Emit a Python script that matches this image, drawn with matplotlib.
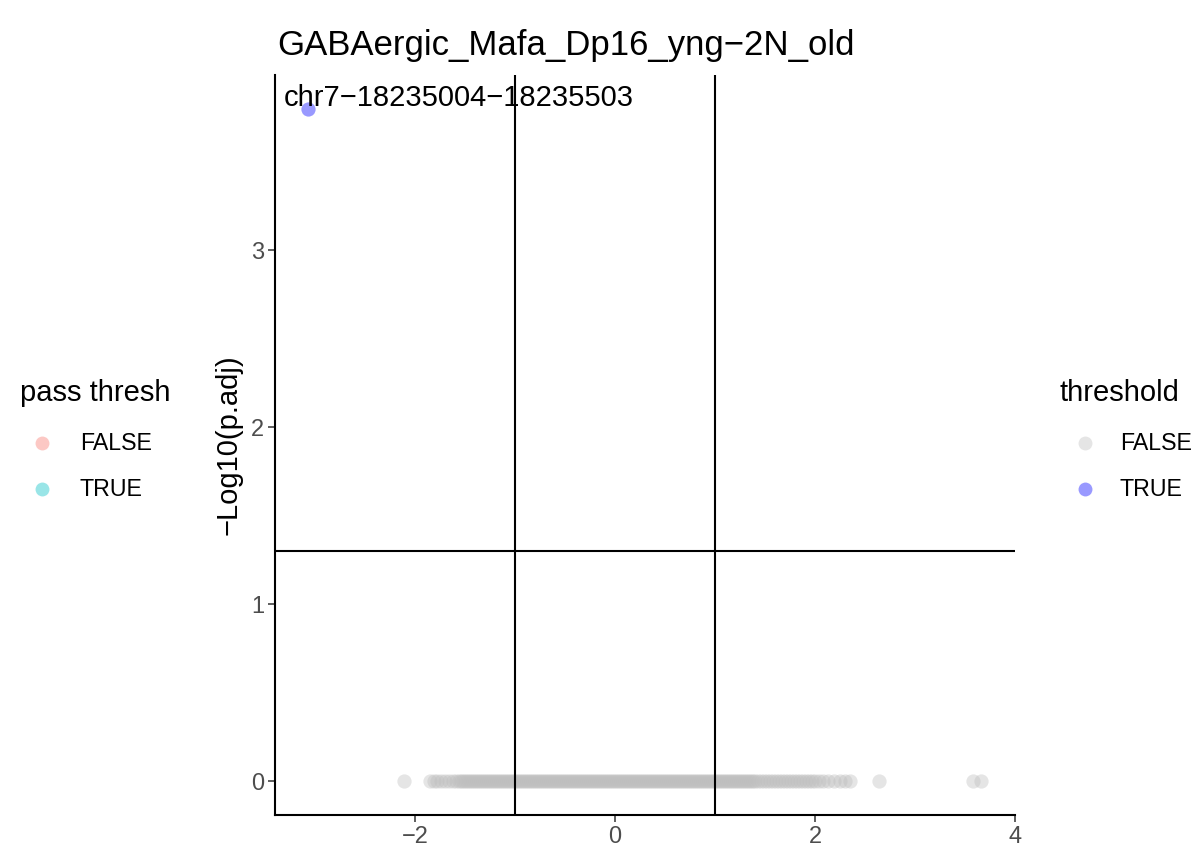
import matplotlib.pyplot as plt
from matplotlib.lines import Line2D

plt.rcParams['font.family'] = ['Liberation Sans', 'DejaVu Sans']

# highlighted peak
sig_lfc = [-3.07]
sig_logp = [3.80]
sig_label = 'chr7\u221218235004\u221218235503'

# non-significant peaks (all sit at -log10(p.adj) ~ 0)
ns_lfc = [-2.11, -1.85, -1.81, -1.78, -1.74, -1.70, -1.66, -1.62, -1.59,
          -1.56, -1.54, -1.52, -1.50, -1.48, -1.46, -1.44, -1.42, -1.40, -1.38,
          -1.36, -1.34, -1.32, -1.30, -1.28, -1.26, -1.24, -1.22, -1.20, -1.18,
          -1.16, -1.14, -1.12, -1.10, -1.08, -1.06, -1.04, -1.02, -1.00, -0.98,
          -0.96, -0.94, -0.92, -0.90, -0.88, -0.86, -0.84, -0.82, -0.80, -0.78,
          -0.76, -0.74, -0.72, -0.70, -0.68, -0.66, -0.64, -0.62, -0.60, -0.58,
          -0.56, -0.54, -0.52, -0.50, -0.48, -0.46, -0.44, -0.42, -0.40, -0.38,
          -0.36, -0.34, -0.32, -0.30, -0.28, -0.26, -0.24, -0.22, -0.20, -0.18,
          -0.16, -0.14, -0.12, -0.10, -0.08, -0.06, -0.04, -0.02, 0.00, 0.02,
          0.04, 0.06, 0.08, 0.10, 0.12, 0.14, 0.16, 0.18, 0.20, 0.22,
          0.24, 0.26, 0.28, 0.30, 0.32, 0.34, 0.36, 0.38, 0.40, 0.42,
          0.44, 0.46, 0.48, 0.50, 0.52, 0.54, 0.56, 0.58, 0.60, 0.62,
          0.64, 0.66, 0.68, 0.70, 0.72, 0.74, 0.76, 0.78, 0.80, 0.82,
          0.84, 0.86, 0.88, 0.90, 0.92, 0.94, 0.96, 0.98, 1.00, 1.02,
          1.04, 1.06, 1.08, 1.10, 1.12, 1.14, 1.16, 1.18, 1.20, 1.22,
          1.24, 1.26, 1.28, 1.30, 1.32, 1.34, 1.36, 1.38, 1.40, 1.43,
          1.46, 1.49, 1.52, 1.55, 1.58, 1.61, 1.64, 1.67, 1.70, 1.73,
          1.76, 1.79, 1.82, 1.85, 1.88, 1.91, 1.94, 1.97, 2.00, 2.04,
          2.08, 2.13, 2.19, 2.25, 2.30, 2.35, 2.64, 3.58, 3.66]
ns_logp = [0.0] * len(ns_lfc)

lfc_cut = [-1, 1]
p_cut = 1.30103  # -log10(0.05)

x_ticks = [-2, 0, 2, 4]
y_ticks = [0, 1, 2, 3]

title = 'GABAergic_Mafa_Dp16_yng\u22122N_old'

pass_labels = ['FALSE', 'TRUE']
pass_colors = ['#F8766D', '#00BFC4']
thr_labels = ['FALSE', 'TRUE']
thr_colors = ['#bebebe', '#0000ff']

W, H = 1193, 857
fig = plt.figure(figsize=(W / 100, H / 100), dpi=100)
ax = fig.add_axes([275 / W, 1 - 815 / H, 740 / W, 740 / H])

ax.scatter(ns_lfc, ns_logp, s=105, color='#bebebe', alpha=0.4, linewidths=0)
ax.scatter(sig_lfc, sig_logp, s=105, color='#0000ff', alpha=0.4, linewidths=0)

for v in lfc_cut:
    ax.axvline(v, color='black', lw=1.5)
ax.axhline(p_cut, color='black', lw=1.5)

# label sits just above the point, the dot overlapping its lower edge
ax.text(-3.31, 3.812, sig_label, fontsize=21, ha='left', va='baseline')

ax.set_xlim(-3.4, 4.0)
ax.set_ylim(-0.192, 3.99)
ax.set_xticks(x_ticks)
ax.set_yticks(y_ticks)
ax.tick_params(colors='#333333', labelcolor='#4d4d4d', labelsize=17,
               length=5, width=1.1, pad=3)
for s in ['top', 'right']:
    ax.spines[s].set_visible(False)
for s in ['left', 'bottom']:
    ax.spines[s].set_linewidth(1.5)
ax.set_ylabel('\u2212Log10(p.adj)', fontsize=21, labelpad=6)

fig.text(277 / W, 1 - 55 / H, title, fontsize=25, ha='left', va='baseline')


def draw_legend(x_title, x_dot, x_lab, head, labels, colors):
    fig.text(x_title / W, 1 - 393 / H, head, fontsize=21, ha='left', va='center')
    for lab, col, yy in zip(labels, colors, [443, 489]):
        fig.add_artist(Line2D([x_dot / W], [1 - yy / H], marker='o', ms=10,
                              color=col, alpha=0.4, mew=0, ls='none',
                              transform=fig.transFigure))
        fig.text(x_lab / W, 1 - yy / H, lab, fontsize=16.7, ha='left', va='center')


draw_legend(20, 42, 80, 'pass thresh', pass_labels, pass_colors)
draw_legend(1060, 1085, 1120, 'threshold', thr_labels, thr_colors)

fig.savefig('out.png', dpi=100)
